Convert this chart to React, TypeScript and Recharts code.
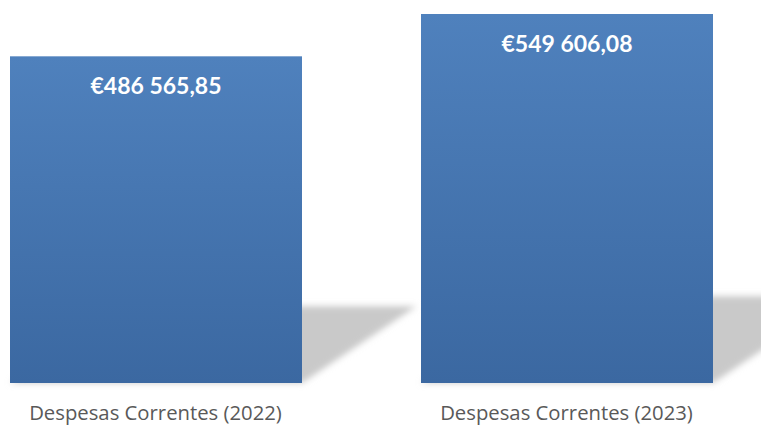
import { BarChart, Bar, XAxis, YAxis, LabelList } from 'recharts';

// Despesas correntes por ano
const categorias = ['Despesas Correntes (2022)', 'Despesas Correntes (2023)'];
const valores = [486565.85, 549606.08];

const data = categorias.map((nome, i) => ({ nome, valor: valores[i] }));

// €486 565,85
function formatEuro(v: number) {
  const [int, dec] = v.toFixed(2).split('.');
  return '€' + int.replace(/\B(?=(\d{3})+(?!\d))/g, ' ') + ',' + dec;
}

// barra com sombra em perspectiva (canto superior direito)
function BarraComSombra(props: any) {
  const { x, y, width, height } = props;
  const base = y + height;
  const hSombra = height * 0.235;
  const desvio = hSombra * 1.49;
  const pts = [
    [x, base],
    [x + width, base],
    [x + width + desvio, base - hSombra],
    [x + desvio, base - hSombra],
  ]
    .map((p) => p.join(','))
    .join(' ');
  return (
    <g>
      <polygon points={pts} fill="#c9c9c9" filter="url(#sombraBlur)" />
      <rect x={x} y={y} width={width} height={height} fill="url(#gradAzul)" />
    </g>
  );
}

function RotuloValor(props: any) {
  const { x, y, width, value } = props;
  return (
    <text
      x={x + width / 2}
      y={y + 38}
      textAnchor="middle"
      fill="#ffffff"
      fontFamily="Lato, sans-serif"
      fontWeight="bold"
      fontSize={23}
    >
      {formatEuro(value)}
    </text>
  );
}

function TickCategoria(props: any) {
  const { x, y, payload } = props;
  return (
    <text
      x={x}
      y={y + 37}
      textAnchor="middle"
      fill="#595959"
      fontFamily="'Open Sans', sans-serif"
      fontSize={20.3}
    >
      {payload.value}
    </text>
  );
}

export default function App() {
  return (
    <div
      style={{
        position: 'fixed',
        left: 0,
        top: 0,
        width: 761,
        height: 426,
        overflow: 'hidden',
        background: '#ffffff',
      }}
    >
      <div style={{ marginLeft: -50 }}>
        <BarChart
          width={822}
          height={426}
          data={data}
          margin={{ top: 14, right: 0, bottom: 0, left: 0 }}
          barSize={292}
        >
          <defs>
            <linearGradient id="gradAzul" x1="0" y1="0" x2="0" y2="1">
              <stop offset="0%" stopColor="#4f81bd" />
              <stop offset="100%" stopColor="#3b68a1" />
            </linearGradient>
            <filter id="sombraBlur" x="-20%" y="-20%" width="140%" height="140%">
              <feGaussianBlur stdDeviation="3" />
            </filter>
          </defs>
          <XAxis
            dataKey="nome"
            axisLine={false}
            tickLine={false}
            tickSize={0}
            tickMargin={0}
            height={43}
            tick={<TickCategoria />}
            interval={0}
          />
          <YAxis hide domain={[0, 'dataMax']} />
          <Bar dataKey="valor" shape={<BarraComSombra />} isAnimationActive={false}>
            <LabelList dataKey="valor" content={<RotuloValor />} />
          </Bar>
        </BarChart>
      </div>
    </div>
  );
}
